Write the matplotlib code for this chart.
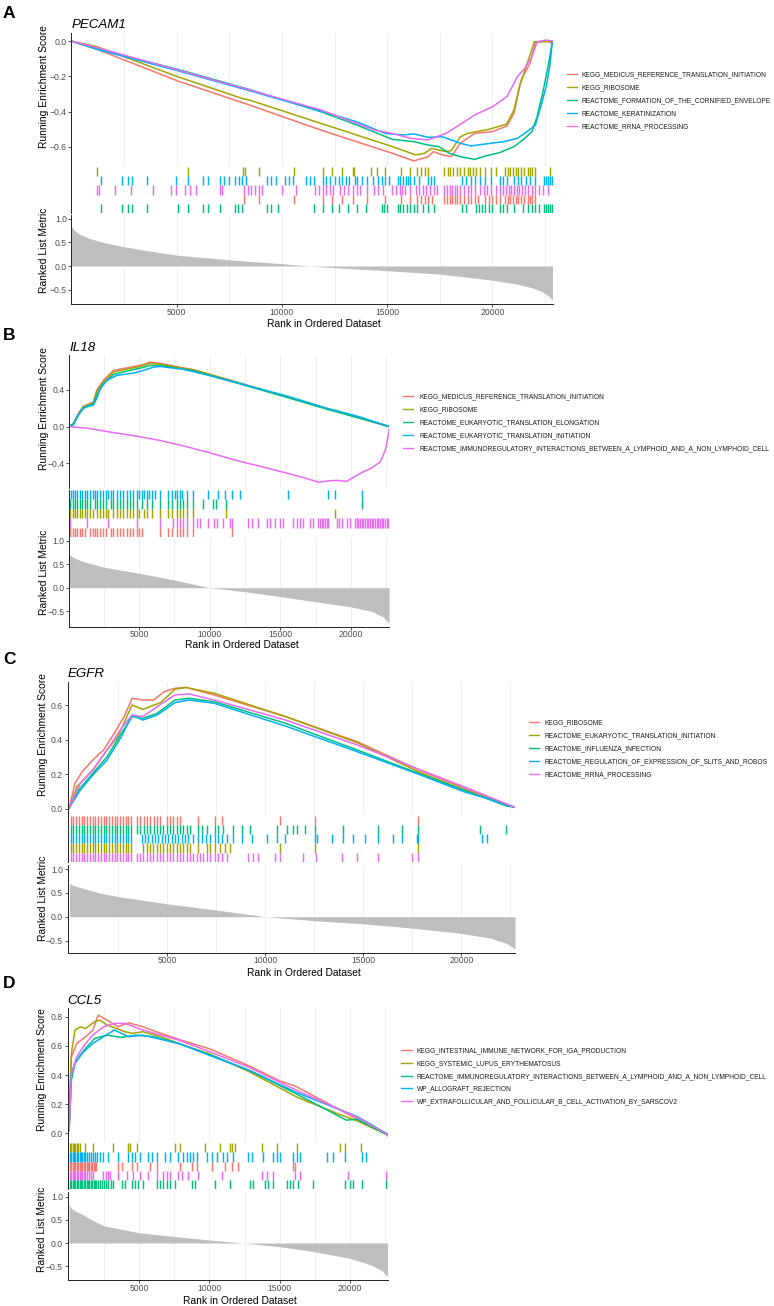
import matplotlib
matplotlib.use('Agg')
import matplotlib.pyplot as plt
from matplotlib.lines import Line2D
from matplotlib.ticker import FuncFormatter

# ---------------- colours / gene sets ----------------
RED, OLIVE, GREEN, BLUE, MAGENTA = '#F8766D', '#A3A500', '#00BF7D', '#00B0F6', '#E76BF3'
COLORS = [RED, OLIVE, GREEN, BLUE, MAGENTA]

genes = ['PECAM1', 'IL18', 'EGFR', 'CCL5']
panel_letters = ['A', 'B', 'C', 'D']

A_sets = ['KEGG_MEDICUS_REFERENCE_TRANSLATION_INITIATION', 'KEGG_RIBOSOME',
          'REACTOME_FORMATION_OF_THE_CORNIFIED_ENVELOPE', 'REACTOME_KERATINIZATION',
          'REACTOME_RRNA_PROCESSING']
B_sets = ['KEGG_MEDICUS_REFERENCE_TRANSLATION_INITIATION', 'KEGG_RIBOSOME',
          'REACTOME_EUKARYOTIC_TRANSLATION_ELONGATION', 'REACTOME_EUKARYOTIC_TRANSLATION_INITIATION',
          'REACTOME_IMMUNOREGULATORY_INTERACTIONS_BETWEEN_A_LYMPHOID_AND_A_NON_LYMPHOID_CELL']
C_sets = ['KEGG_RIBOSOME', 'REACTOME_EUKARYOTIC_TRANSLATION_INITIATION',
          'REACTOME_INFLUENZA_INFECTION', 'REACTOME_REGULATION_OF_EXPRESSION_OF_SLITS_AND_ROBOS',
          'REACTOME_RRNA_PROCESSING']
D_sets = ['KEGG_INTESTINAL_IMMUNE_NETWORK_FOR_IGA_PRODUCTION', 'KEGG_SYSTEMIC_LUPUS_ERYTHEMATOSUS',
          'REACTOME_IMMUNOREGULATORY_INTERACTIONS_BETWEEN_A_LYMPHOID_AND_A_NON_LYMPHOID_CELL',
          'WP_ALLOGRAFT_REJECTION', 'WP_EXTRAFOLLICULAR_AND_FOLLICULAR_B_CELL_ACTIVATION_BY_SARSCOV2']

# ---------------- ranked list metric (rank, value) ----------------
A_met_rank = [0, 150, 400, 800, 1500, 2500, 3500, 5000, 7500, 10000, 11300, 13000, 15000, 17500, 20000, 21000, 21800, 22300, 22600, 22850]
A_met_val = [0.84, 0.75, 0.67, 0.59, 0.50, 0.41, 0.33, 0.23, 0.13, 0.05, 0.0, -0.05, -0.10, -0.17, -0.30, -0.37, -0.45, -0.53, -0.61, -0.72]
B_met_rank = [0, 150, 400, 1055, 2500, 5000, 7500, 10000, 12500, 15000, 17500, 20000, 21500, 22300, 22700]
B_met_val = [0.73, 0.69, 0.64, 0.56, 0.44, 0.31, 0.165, 0.0, -0.085, -0.19, -0.30, -0.41, -0.51, -0.63, -0.76]
C_met_rank = [0, 150, 640, 1500, 2500, 5000, 7500, 10000, 12500, 15000, 17500, 20000, 21500, 22300, 22730]
C_met_val = [0.70, 0.66, 0.60, 0.50, 0.42, 0.27, 0.14, 0.0, -0.084, -0.15, -0.24, -0.35, -0.45, -0.56, -0.68]
D_met_rank = [0, 150, 500, 930, 1600, 2500, 5000, 7500, 10000, 12400, 15000, 17500, 20000, 21500, 22300, 22680]
D_met_val = [0.82, 0.75, 0.68, 0.62, 0.50, 0.37, 0.22, 0.14, 0.065, 0.0, -0.08, -0.19, -0.33, -0.475, -0.60, -0.73]

# ---------------- running enrichment score curves ----------------
A_es_red_x = [0, 1313, 5052, 8449, 11845, 13543, 15250, 16260, 16940, 17200, 17620, 18040, 18470, 19150, 20000, 20680, 21020, 21360, 21780, 22040, 22550, 22840]
A_es_red_y = [0, -0.051, -0.226, -0.362, -0.504, -0.57, -0.636, -0.679, -0.655, -0.626, -0.645, -0.655, -0.579, -0.523, -0.513, -0.481, -0.409, -0.221, -0.126, -0.009, 0.002, -0.013]
A_es_olive_x = [0, 1230, 5052, 8110, 8449, 11845, 13543, 15250, 16350, 16770, 17110, 17790, 18040, 18470, 18810, 19830, 20680, 21020, 21280, 21700, 21990, 22470, 22840]
A_es_olive_y = [0, -0.032, -0.202, -0.325, -0.334, -0.466, -0.532, -0.598, -0.645, -0.636, -0.608, -0.626, -0.621, -0.542, -0.523, -0.5, -0.47, -0.39, -0.258, -0.108, -0.004, -0.004, 0]
A_es_green_x = [0, 1313, 5052, 8449, 11845, 13543, 15250, 16260, 16940, 17450, 17960, 18470, 19150, 19660, 20340, 21020, 21530, 21870, 22120, 22380, 22640, 22840]
A_es_green_y = [0, -0.047, -0.16, -0.274, -0.4, -0.475, -0.557, -0.57, -0.589, -0.598, -0.636, -0.655, -0.67, -0.651, -0.632, -0.598, -0.551, -0.513, -0.428, -0.296, -0.145, -0.004]
A_es_blue_x = [0, 1313, 5052, 8449, 11845, 13543, 14900, 15745, 16260, 16940, 17620, 18470, 18980, 19660, 20510, 21190, 21700, 22040, 22290, 22550, 22720, 22840]
A_es_blue_y = [0, -0.05, -0.168, -0.281, -0.396, -0.457, -0.523, -0.532, -0.526, -0.545, -0.542, -0.579, -0.594, -0.583, -0.57, -0.551, -0.508, -0.475, -0.372, -0.258, -0.145, -0.004]
A_es_magenta_x = [0, 1313, 5052, 8449, 11845, 13543, 14393, 15250, 16090, 16940, 17790, 18300, 19150, 20000, 20680, 21190, 21530, 21870, 22120, 22550, 22840]
A_es_magenta_y = [0, -0.04, -0.164, -0.277, -0.39, -0.466, -0.504, -0.523, -0.551, -0.56, -0.523, -0.485, -0.419, -0.372, -0.315, -0.2, -0.155, -0.089, -0.004, 0.006, 0]

B_es_red_x = [0, 350, 705, 1060, 1415, 1770, 2000, 2480, 3190, 4130, 5080, 5790, 6500, 8160, 9000, 11570, 15240, 18430, 20770, 22740]
B_es_red_y = [0, 0.036, 0.144, 0.223, 0.245, 0.27, 0.396, 0.505, 0.613, 0.641, 0.667, 0.703, 0.69, 0.64, 0.615, 0.5, 0.336, 0.193, 0.088, 0]
B_es_olive_x = [0, 350, 705, 1060, 1415, 1770, 2000, 2480, 3190, 4130, 5080, 5790, 6500, 8160, 8850, 11140, 15240, 18430, 18880, 20770, 22740]
B_es_olive_y = [0, 0.029, 0.137, 0.216, 0.238, 0.26, 0.378, 0.486, 0.595, 0.627, 0.656, 0.69, 0.68, 0.635, 0.62, 0.52, 0.335, 0.19, 0.175, 0.09, 0]
B_es_green_x = [0, 350, 705, 1060, 1415, 1770, 2000, 2480, 3190, 4130, 5080, 5790, 6500, 8160, 8850, 11140, 15240, 18430, 20770, 22740]
B_es_green_y = [0, 0.029, 0.126, 0.209, 0.231, 0.245, 0.342, 0.468, 0.569, 0.605, 0.638, 0.667, 0.665, 0.625, 0.61, 0.51, 0.33, 0.185, 0.085, 0]
B_es_blue_x = [0, 350, 705, 1060, 1415, 1770, 2000, 2250, 2720, 3430, 4610, 5320, 6030, 6500, 8160, 9910, 12150, 15570, 18410, 18880, 20770, 22740]
B_es_blue_y = [0, 0.018, 0.126, 0.198, 0.223, 0.234, 0.306, 0.414, 0.505, 0.559, 0.584, 0.613, 0.649, 0.656, 0.625, 0.56, 0.47, 0.33, 0.195, 0.18, 0.1, 0]
B_es_magenta_x = [0, 1296, 2826, 4880, 6490, 8160, 9910, 11700, 14060, 16430, 17730, 18410, 19000, 19710, 20200, 20770, 21480, 22100, 22450, 22620, 22740]
B_es_magenta_y = [0, -0.015, -0.055, -0.105, -0.15, -0.21, -0.28, -0.36, -0.45, -0.545, -0.605, -0.59, -0.585, -0.595, -0.55, -0.5, -0.45, -0.38, -0.25, -0.12, 0]

C_es_red_x = [0, 280, 644, 1190, 1736, 2283, 2830, 3195, 3740, 4290, 4836, 5383, 5930, 7390, 11030, 14680, 17920, 20140, 22730]
C_es_red_y = [0.01, 0.147, 0.214, 0.282, 0.34, 0.436, 0.542, 0.639, 0.629, 0.629, 0.677, 0.697, 0.702, 0.658, 0.533, 0.388, 0.22, 0.118, 0.008]
C_es_olive_x = [0, 372, 1190, 1918, 2465, 3195, 3740, 4650, 5383, 5930, 7390, 11030, 14680, 17920, 20140, 22730]
C_es_olive_y = [0, 0.127, 0.224, 0.34, 0.417, 0.6, 0.575, 0.614, 0.691, 0.702, 0.668, 0.533, 0.382, 0.208, 0.108, 0.008]
C_es_green_x = [0, 462, 1190, 1918, 2647, 3195, 3740, 4470, 5383, 6110, 7390, 11030, 14680, 17920, 20140, 22320, 22730]
C_es_green_y = [0.01, 0.108, 0.205, 0.301, 0.436, 0.533, 0.523, 0.552, 0.629, 0.639, 0.619, 0.494, 0.34, 0.2, 0.108, 0.015, 0.01]
C_es_blue_x = [0, 553, 1190, 1918, 2647, 3195, 3740, 4470, 5383, 6110, 7390, 11030, 14680, 17920, 20140, 21290, 22730]
C_es_blue_y = [0.01, 0.108, 0.195, 0.282, 0.417, 0.542, 0.513, 0.542, 0.614, 0.629, 0.61, 0.478, 0.33, 0.195, 0.098, 0.06, 0.008]
C_es_magenta_x = [0, 553, 1190, 1918, 2647, 3195, 3740, 4470, 5383, 6110, 7390, 11030, 14680, 17920, 20140, 22730]
C_es_magenta_y = [0.01, 0.147, 0.224, 0.34, 0.465, 0.542, 0.533, 0.59, 0.658, 0.664, 0.629, 0.513, 0.369, 0.224, 0.127, 0.008]

D_es_red_x = [0, 165, 546, 1182, 1691, 2073, 2709, 3473, 4236, 5253, 6525, 7797, 10000, 12885, 15000, 16090, 20000, 22680]
D_es_red_y = [0.02, 0.526, 0.617, 0.663, 0.709, 0.811, 0.777, 0.731, 0.759, 0.731, 0.686, 0.645, 0.58, 0.46, 0.36, 0.325, 0.124, -0.011]
D_es_olive_x = [0, 36, 165, 420, 801, 1182, 1818, 2200, 2709, 3982, 4490, 5253, 6525, 7797, 10000, 12885, 16190, 19240, 20520, 22680]
D_es_olive_y = [0.02, 0.25, 0.549, 0.709, 0.731, 0.72, 0.766, 0.777, 0.743, 0.697, 0.686, 0.697, 0.663, 0.617, 0.545, 0.42, 0.25, 0.13, 0.085, -0.011]
D_es_green_x = [0, 165, 420, 801, 1182, 1818, 2709, 3727, 4745, 6016, 7797, 10000, 12885, 16190, 19750, 20520, 22680]
D_es_green_y = [0.02, 0.366, 0.48, 0.537, 0.583, 0.651, 0.674, 0.658, 0.674, 0.663, 0.617, 0.54, 0.43, 0.27, 0.09, 0.096, -0.011]
D_es_blue_x = [0, 165, 420, 928, 1691, 2454, 3218, 4236, 5253, 6525, 7797, 10000, 12885, 16190, 20520, 22680]
D_es_blue_y = [0.02, 0.411, 0.48, 0.549, 0.617, 0.663, 0.709, 0.663, 0.674, 0.645, 0.617, 0.535, 0.43, 0.28, 0.115, -0.005]
D_es_magenta_x = [0, 165, 546, 1182, 1691, 2454, 3218, 3982, 5253, 6525, 7797, 10000, 12885, 16190, 20520, 22550, 22680]
D_es_magenta_y = [0.02, 0.411, 0.526, 0.617, 0.674, 0.731, 0.754, 0.754, 0.709, 0.674, 0.64, 0.56, 0.45, 0.295, 0.11, 0.0, -0.018]

# ---------------- hit positions (rank of each gene in the set) ----------------
A_hits_olive = [1230, 5560, 8150, 8230, 8925, 10570, 11930, 12355, 12830, 13380, 13440, 14225, 14515, 14905, 15670, 16095, 16435, 16600, 16775, 16945, 17705, 17875, 17995, 18135, 18300, 18470, 18640, 18815, 18950, 19065, 19240, 19410, 19660, 19915, 20170, 20600, 20720, 20850, 20970, 21105, 21225, 21360, 21495, 21670, 21785, 21870, 22040, 22720]
A_hits_blue = [1398, 2420, 2670, 2880, 3605, 4965, 5560, 6240, 6495, 7055, 7260, 7480, 7770, 7940, 8110, 8280, 9300, 9470, 9720, 10145, 10315, 10520, 11130, 11335, 11505, 11930, 12100, 12270, 12525, 12695, 12865, 13035, 13205, 13460, 13545, 13800, 14055, 14310, 14565, 14735, 14905, 15075, 15500, 15620, 15755, 15890, 16010, 16095, 16265, 16520, 16945, 17065, 17200, 18555, 18725, 18980, 19150, 19405, 19660, 19915, 20340, 20510, 20680, 21020, 21190, 21360, 21615, 21785, 22040, 22465, 22550, 22635, 22720, 22805]
A_hits_magenta = [1228, 1313, 2080, 2845, 3865, 4715, 4965, 5390, 5645, 5900, 7055, 7175, 8195, 8365, 8535, 8705, 8925, 9045, 9980, 10660, 11590, 11760, 11930, 12100, 12270, 12440, 12780, 12950, 13120, 13375, 13545, 13715, 14055, 14395, 14565, 14820, 15245, 15415, 15585, 15720, 15840, 16095, 16350, 16520, 16690, 16860, 17030, 17200, 17370, 17705, 17825, 17960, 18095, 18215, 18335, 18470, 18640, 18815, 18980, 19150, 19405, 19575, 19745, 19915, 20170, 20340, 20510, 20645, 20765, 20885, 21020, 21155, 21275, 21395, 21530, 21700, 21870, 22040, 22210, 22380, 22635]
A_hits_red = [8195, 8925, 10570, 11930, 12355, 12865, 13375, 14055, 14905, 15670, 16095, 16435, 16600, 16775, 16945, 17115, 17705, 17825, 17960, 18095, 18215, 18335, 18470, 18640, 18815, 18980, 19150, 19320, 19660, 19830, 20000, 20170, 20340, 20600, 20720, 20850, 20970, 21105, 21225, 21360, 21495, 21670, 21785, 21870, 22040]
A_hits_green = [1398, 2420, 2705, 2880, 3605, 5050, 5560, 6240, 6495, 7055, 7770, 7905, 8110, 9300, 9470, 9810, 11505, 11930, 12355, 12695, 13120, 13545, 13970, 14735, 14850, 14990, 15500, 15620, 15755, 15925, 16095, 16265, 16435, 16690, 16945, 17200, 18555, 18725, 19235, 19350, 19490, 19660, 19830, 20000, 20340, 20510, 20680, 21020, 21445, 21700, 21870, 22040, 22210, 22465, 22550, 22635, 22720, 22805]

B_hits_blue = [160, 300, 470, 630, 820, 990, 1180, 1340, 1530, 1720, 1880, 2050, 2240, 2470, 2660, 2830, 2990, 3180, 3420, 3650, 3890, 4130, 4360, 4600, 4830, 5020, 5190, 5350, 5540, 5730, 5920, 6130, 6490, 7080, 7320, 7550, 7670, 7900, 8020, 8380, 8850, 9910, 10620, 11090, 11570, 12150, 15570, 18410, 18880, 20770]
B_hits_green = [120, 300, 470, 630, 820, 990, 1180, 1340, 1530, 1880, 2050, 2240, 2470, 2660, 2990, 3180, 3420, 3650, 3890, 4130, 4360, 4600, 4830, 5190, 5540, 5920, 6490, 7080, 7320, 7670, 7900, 8140, 8380, 8850, 9560, 10260, 10430, 11140, 20770]
B_hits_olive = [120, 300, 470, 630, 820, 990, 1180, 1340, 1530, 1720, 2050, 2240, 2470, 2660, 2830, 3180, 3420, 3650, 3890, 4130, 4360, 4600, 4830, 5020, 5350, 5540, 5920, 6490, 7080, 7320, 7670, 7900, 8140, 8380, 8850, 11140, 18880]
B_hits_magenta = [110, 1300, 2830, 4880, 6490, 7430, 7670, 7900, 8140, 8380, 8850, 9090, 9320, 9910, 10310, 10550, 10970, 11440, 11570, 12740, 12980, 13450, 14040, 14280, 14630, 14990, 15220, 15930, 16170, 16400, 16640, 17110, 17340, 17700, 17820, 17940, 18060, 18170, 18290, 18410, 19000, 19190, 19360, 19710, 19940, 20300, 20410, 20530, 20650, 20770, 20890, 21010, 21120, 21240, 21360, 21480, 21590, 21710, 21830, 21950, 22070, 22190, 22300, 22420, 22540, 22660]
B_hits_red = [120, 300, 470, 630, 820, 990, 1180, 1530, 1720, 1880, 2050, 2240, 2470, 2660, 2990, 3180, 3420, 3650, 3890, 4130, 4360, 4600, 4830, 5020, 5190, 6490, 7080, 7320, 7670, 7900, 8140, 8380, 8850, 11570]

C_hits_red = [60, 200, 340, 480, 620, 760, 900, 1040, 1180, 1320, 1460, 1600, 1740, 1880, 2020, 2160, 2300, 2440, 2580, 2720, 2860, 3000, 3140, 3430, 3600, 3780, 3950, 4120, 4290, 4460, 4620, 4960, 5130, 5300, 5470, 5640, 6570, 7420, 7770, 10740, 12530, 17800]
C_hits_green = [60, 200, 340, 480, 620, 760, 900, 1040, 1180, 1320, 1460, 1600, 1740, 1880, 2020, 2160, 2300, 2440, 2580, 2720, 2860, 3000, 3140, 3430, 3600, 3780, 3950, 4120, 4290, 4450, 4620, 4790, 4960, 5130, 5300, 5470, 5640, 5810, 5980, 6150, 6570, 6740, 7000, 7420, 7590, 7850, 8360, 8785, 9210, 10570, 11080, 11420, 11590, 12015, 12525, 13970, 15750, 16950, 17800, 20945, 22290]
C_hits_blue = [60, 200, 340, 480, 620, 760, 900, 1040, 1180, 1320, 1460, 1600, 1740, 1880, 2020, 2160, 2300, 2440, 2580, 2720, 2860, 3000, 3140, 3680, 3850, 4020, 4190, 4360, 4530, 4700, 4870, 5040, 5210, 5380, 5550, 5720, 5890, 6060, 6320, 6570, 6740, 6950, 7170, 7420, 7600, 7800, 8020, 8360, 8785, 9300, 10060, 10570, 11000, 12525, 12610, 13380, 13970, 14480, 15080, 15750, 16520, 16950, 17715, 17800, 21030, 21285]
C_hits_olive = [60, 200, 340, 480, 620, 760, 900, 1040, 1180, 1320, 1460, 1600, 1740, 1880, 2020, 2160, 2300, 2440, 2580, 2720, 2860, 3000, 3140, 3770, 3940, 4110, 4280, 4450, 4620, 4790, 4960, 5130, 5300, 5470, 5640, 5810, 5980, 6150, 6570, 7000, 7170, 7420, 7680, 7930, 8190, 10740, 12525, 17800]
C_hits_magenta = [60, 200, 340, 480, 620, 760, 900, 1040, 1180, 1320, 1460, 1600, 1740, 1880, 2020, 2160, 2300, 2440, 2580, 2720, 2860, 3000, 3140, 3430, 3600, 3770, 3940, 4110, 4280, 4450, 4620, 4790, 4960, 5130, 5300, 5470, 5640, 5810, 5980, 6150, 6320, 6490, 6660, 6830, 7000, 7170, 7420, 7600, 7800, 8020, 9130, 9380, 9640, 10480, 10740, 11930, 12580, 13890, 14680, 15750, 17460, 17800]

D_hits_olive = [50, 150, 250, 350, 450, 550, 650, 776, 1133, 1724, 3148, 4217, 4338, 4815, 7543, 7900, 9680, 10750, 11460, 11625, 11817, 13720, 14785, 16210, 19296, 19652, 20770]
D_hits_blue = [50, 150, 250, 350, 450, 550, 650, 750, 850, 950, 1050, 1150, 1250, 1400, 1550, 1700, 1850, 2000, 2200, 2437, 2790, 3505, 4217, 4460, 4694, 5050, 5640, 5880, 6240, 6830, 7190, 7780, 8135, 8375, 8610, 8850, 9090, 9800, 10160, 10510, 10985, 11225, 11700, 12765, 13005, 13835, 14545, 14785, 15025, 15970, 16210, 16450, 18350, 18820, 19650, 20840, 21150]
D_hits_red = [50, 150, 250, 350, 450, 550, 650, 750, 850, 950, 1050, 1150, 1250, 1350, 1450, 1550, 1650, 1750, 1850, 1950, 3505, 3745, 4460, 4815, 5760, 6240, 7900, 8730, 9090, 10160, 11105, 11600, 12055, 15940, 16090]
D_hits_magenta = [50, 150, 250, 350, 450, 550, 650, 750, 850, 950, 1050, 1150, 1250, 1400, 1550, 1700, 2440, 2600, 2760, 2910, 3505, 4100, 4575, 5050, 5640, 6240, 6710, 6950, 7190, 7780, 8020, 8490, 9200, 10870, 13720, 14075, 14545, 16090, 16450, 19890, 22550]
D_hits_green = [50, 150, 250, 350, 450, 550, 650, 750, 850, 950, 1050, 1150, 1250, 1350, 1450, 1550, 1650, 1750, 1850, 1950, 2050, 2200, 2350, 2500, 2650, 2800, 2950, 3150, 3745, 3980, 4460, 4694, 4930, 5285, 6240, 6475, 6710, 6950, 7190, 7543, 8730, 8970, 10395, 11460, 12885, 13120, 13955, 14190, 14545, 15500, 15735, 15970, 16330, 17395, 19650, 20005, 20245, 20840, 22550]

# ---------------- figure ----------------
W, H = 774, 1306
plt.rcParams['font.family'] = ['Liberation Sans', 'DejaVu Sans']
plt.rcParams['axes.unicode_minus'] = True
fig = plt.figure(figsize=(W / 100, H / 100), dpi=100)


def rect(l, t, r, b):
    return [l / W, 1 - b / H, (r - l) / W, (b - t) / H]


def fy(y):
    return 1 - y / H


minus_fmt = FuncFormatter(lambda v, p: ('%.1f' % v).replace('-', '\u2212'))
TICK_C = '#4D4D4D'

panels = [
    dict(letter=panel_letters[0], gene=genes[0], sets=A_sets, left=71.4, right=552.5, xlim=(0, 22850),
         es_box=(33.3, 165.7), es_ylim=(-0.706, 0.044), es_ticks=[-0.6, -0.4, -0.2, 0.0],
         hit_box=(166.7, 213.3), met_box=(215.0, 304.3), met_ylim=(-0.81, 1.079),
         met=(A_met_rank, A_met_val),
         es=[(A_es_red_x, A_es_red_y), (A_es_olive_x, A_es_olive_y), (A_es_green_x, A_es_green_y),
             (A_es_blue_x, A_es_blue_y), (A_es_magenta_x, A_es_magenta_y)],
         rows=[(A_hits_olive, OLIVE), (A_hits_blue, BLUE), (A_hits_magenta, MAGENTA),
               (A_hits_red, RED), (A_hits_green, GREEN)],
         letter_y=13, title_y=25.3, ylab_x=43.7, ylab1_y=86.7, ylab2_y=250.8, xlab=(324, 324),
         leg_key=(566.7, 576.7), leg_tx=581.7, leg_y=[74.3, 87.3, 100.0, 112.7, 125.7]),
    dict(letter=panel_letters[1], gene=genes[1], sets=B_sets, left=69.0, right=389.0, xlim=(42, 22700),
         es_box=(355.0, 488.0), es_ylim=(-0.668, 0.781), es_ticks=[-0.4, 0.0, 0.4],
         hit_box=(490.0, 537.0), met_box=(538.0, 626.7), met_ylim=(-0.835, 1.064),
         met=(B_met_rank, B_met_val),
         es=[(B_es_red_x, B_es_red_y), (B_es_olive_x, B_es_olive_y), (B_es_green_x, B_es_green_y),
             (B_es_blue_x, B_es_blue_y), (B_es_magenta_x, B_es_magenta_y)],
         rows=[(B_hits_blue, BLUE), (B_hits_green, GREEN), (B_hits_olive, OLIVE),
               (B_hits_magenta, MAGENTA), (B_hits_red, RED)],
         letter_y=336, title_y=348.3, ylab_x=44.2, ylab1_y=408.3, ylab2_y=572.5, xlab=(242, 644.5),
         leg_key=(402.7, 413.0), leg_tx=419.0, leg_y=[395.7, 409.0, 422.0, 434.5, 447.7]),
    dict(letter=panel_letters[2], gene=genes[2], sets=C_sets, left=67.5, right=515.0, xlim=(-100, 22730),
         es_box=(681.7, 815.0), es_ylim=(-0.036, 0.735), es_ticks=[0.0, 0.2, 0.4, 0.6],
         hit_box=(815.7, 861.7), met_box=(865.0, 952.7), met_ylim=(-0.755, 1.084),
         met=(C_met_rank, C_met_val),
         es=[(C_es_red_x, C_es_red_y), (C_es_olive_x, C_es_olive_y), (C_es_green_x, C_es_green_y),
             (C_es_blue_x, C_es_blue_y), (C_es_magenta_x, C_es_magenta_y)],
         rows=[(C_hits_red, RED), (C_hits_green, GREEN), (C_hits_blue, BLUE),
               (C_hits_olive, OLIVE), (C_hits_magenta, MAGENTA)],
         letter_y=659, title_y=674, ylab_x=43.0, ylab1_y=735, ylab2_y=898.3, xlab=(303.6, 972.5),
         leg_key=(528.6, 539.3), leg_tx=544.6, leg_y=[721.7, 735.0, 748.0, 760.7, 773.7]),
    dict(letter=panel_letters[3], gene=genes[3], sets=D_sets, left=67.5, right=387.5, xlim=(-114, 22680),
         es_box=(1008.3, 1142.0), es_ylim=(-0.06, 0.858), es_ticks=[0.0, 0.2, 0.4, 0.6, 0.8],
         hit_box=(1143.3, 1189.0), met_box=(1191.7, 1280.0), met_ylim=(-0.799, 1.108),
         met=(D_met_rank, D_met_val),
         es=[(D_es_red_x, D_es_red_y), (D_es_olive_x, D_es_olive_y), (D_es_green_x, D_es_green_y),
             (D_es_blue_x, D_es_blue_y), (D_es_magenta_x, D_es_magenta_y)],
         rows=[(D_hits_olive, OLIVE), (D_hits_blue, BLUE), (D_hits_red, RED),
               (D_hits_magenta, MAGENTA), (D_hits_green, GREEN)],
         letter_y=983, title_y=1000.7, ylab_x=42.0, ylab1_y=1070, ylab2_y=1229, xlab=(239.8, 1300.7),
         leg_key=(400.7, 411.7), leg_tx=416.7, leg_y=[1050.0, 1062.7, 1075.7, 1088.3, 1101.0]),
]

major_x = [5000, 10000, 15000, 20000]
minor_x = [2500, 7500, 12500, 17500, 22500]


def style_axis(ax, xlim):
    ax.set_xlim(*xlim)
    for s in ['top', 'right']:
        ax.spines[s].set_visible(False)
    ax.spines['left'].set_linewidth(0.7)
    ax.spines['left'].set_color('#222222')
    ax.spines['bottom'].set_linewidth(0.7)
    ax.spines['bottom'].set_color('#222222')
    ax.tick_params(axis='both', which='major', length=2.0, width=0.6, color='#333333',
                   labelsize=6.2, labelcolor=TICK_C, pad=1.2)
    ax.tick_params(axis='x', which='major', pad=0.6)
    ax.tick_params(axis='x', which='minor', length=0)
    ax.set_axisbelow(True)


for P in panels:
    L, Rt = P['left'], P['right']
    # --- ES panel
    ax1 = fig.add_axes(rect(L, P['es_box'][0], Rt, P['es_box'][1]))
    style_axis(ax1, P['xlim'])
    ax1.set_ylim(*P['es_ylim'])
    ax1.set_xticks(major_x)
    ax1.set_xticks(minor_x, minor=True)
    ax1.grid(axis='x', which='both', color='#EBEBEB', linewidth=0.6)
    ax1.spines['bottom'].set_visible(False)
    ax1.tick_params(axis='x', which='both', length=0, labelbottom=False)
    ax1.set_yticks(P['es_ticks'])
    ax1.yaxis.set_major_formatter(minus_fmt)
    for (xs, ys), c in zip(P['es'], COLORS):
        ax1.plot(xs, ys, color=c, linewidth=1.1, solid_joinstyle='round')

    # --- hits panel
    ax2 = fig.add_axes(rect(L, P['hit_box'][0], Rt, P['hit_box'][1]))
    style_axis(ax2, P['xlim'])
    ax2.set_ylim(0, 5)
    ax2.spines['bottom'].set_visible(False)
    ax2.set_xticks([])
    ax2.set_yticks([])
    for i, (ranks, c) in enumerate(P['rows']):
        ax2.vlines(ranks, 5 - i - 1, 5 - i, colors=c, linewidth=1.05)

    # --- ranked list metric panel
    ax3 = fig.add_axes(rect(L, P['met_box'][0], Rt, P['met_box'][1]))
    style_axis(ax3, P['xlim'])
    ax3.set_ylim(*P['met_ylim'])
    ax3.set_xticks(major_x)
    ax3.set_xticks(minor_x, minor=True)
    ax3.grid(axis='x', which='both', color='#EBEBEB', linewidth=0.6)
    ax3.set_yticks([-0.5, 0.0, 0.5, 1.0])
    ax3.yaxis.set_major_formatter(minus_fmt)
    mr, mv = P['met']
    ax3.fill_between(mr, mv, 0, color='#BEBEBE', linewidth=0)

    # --- texts
    fig.text(3 / W, fy(P['letter_y']), P['letter'], fontsize=12.5, fontweight='bold',
             ha='left', va='center')
    fig.text(L / W, fy(P['title_y']), P['gene'], fontsize=9.6, fontstyle='italic',
             ha='left', va='center')
    fig.text(P['ylab_x'] / W, fy(P['ylab1_y']), 'Running Enrichment Score', rotation=90,
             fontsize=7.4, ha='center', va='center')
    fig.text(P['ylab_x'] / W, fy(P['ylab2_y']), 'Ranked List Metric', rotation=90,
             fontsize=7.4, ha='center', va='center')
    fig.text(P['xlab'][0] / W, fy(P['xlab'][1]), 'Rank in Ordered Dataset',
             fontsize=7.4, ha='center', va='center')

    # --- legend
    k0, k1 = P['leg_key']
    for name, c, yy in zip(P['sets'], COLORS, P['leg_y']):
        fig.add_artist(Line2D([k0 / W, k1 / W], [fy(yy), fy(yy)], color=c, linewidth=1.0,
                              transform=fig.transFigure))
        fig.text(P['leg_tx'] / W, fy(yy + 2.3), name, fontsize=4.75, color='#1A1A1A',
                 ha='left', va='baseline')

fig.savefig('out.png', dpi=100)
